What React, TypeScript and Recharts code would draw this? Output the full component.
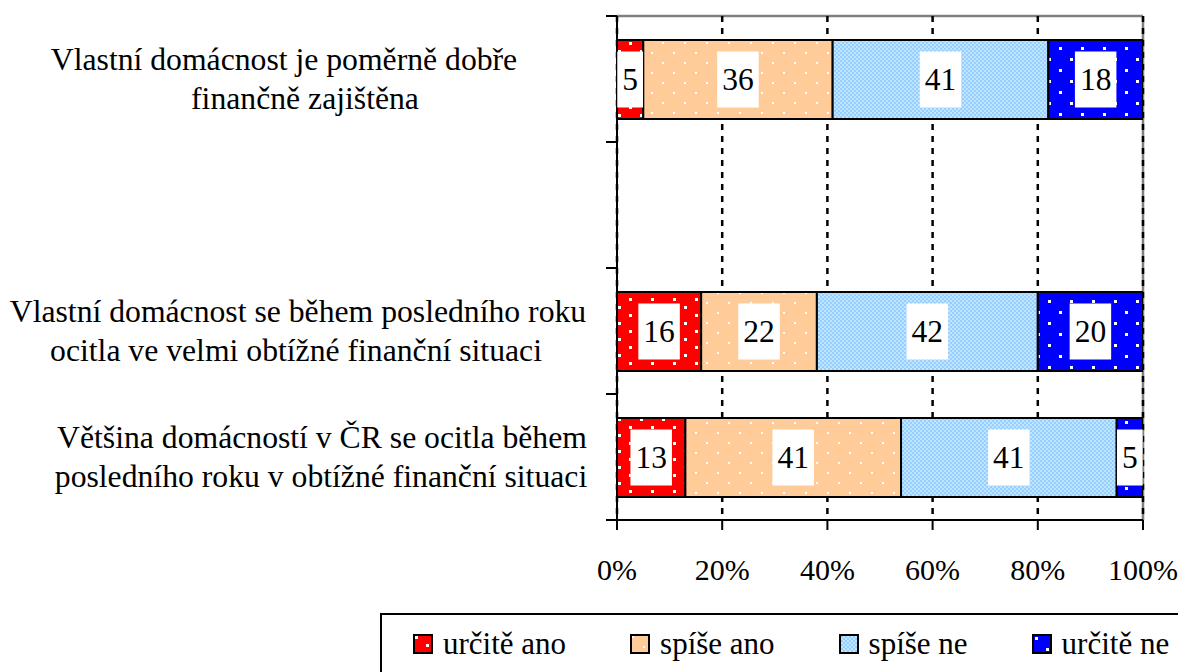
import React from 'react';
import { BarChart, Bar, XAxis, YAxis, CartesianGrid, LabelList, Legend } from 'recharts';

// ---------- data ----------
const categoryLabels: string[][] = [
  ['Vlastní domácnost je poměrně dobře', 'finančně zajištěna'],
  [],
  ['Vlastní domácnost se během posledního roku', 'ocitla ve velmi obtížné finanční situaci'],
  ['Většina domácností v ČR se ocitla během', 'posledního roku v obtížné finanční situaci'],
];
const seriesNames = ['určitě ano', 'spíše ano', 'spíše ne', 'určitě ne'];
const urciteAno: (number | null)[] = [5, null, 16, 13];
const spiseAno: (number | null)[] = [36, null, 22, 41];
const spiseNe: (number | null)[] = [41, null, 42, 41];
const urciteNe: (number | null)[] = [18, null, 20, 5];
const xTicks = [0, 20, 40, 60, 80, 100];

// ---------- styles ----------
const FONT = '"Liberation Serif", "Times New Roman", serif';
const SERIES = [
  { key: 'urciteAno', name: seriesNames[0], values: urciteAno, fill: 'url(#patRed)' },
  { key: 'spiseAno', name: seriesNames[1], values: spiseAno, fill: 'url(#patPeach)' },
  { key: 'spiseNe', name: seriesNames[2], values: spiseNe, fill: 'url(#patLight)' },
  { key: 'urciteNe', name: seriesNames[3], values: urciteNe, fill: 'url(#patBlue)' },
];
// horizontal centers of each label line
const LABEL_CENTERS: number[][] = [[284, 305], [], [298, 296], [322, 321]];
const LINE_GAP = 39;
const CAT_FONT = 31.7;

const data = categoryLabels.map((lines, i) => {
  const row: Record<string, any> = { name: lines.length ? lines.join('\n') : ' ' };
  SERIES.forEach((s) => {
    row[s.key] = s.values[i];
  });
  return row;
});

const Patterns = () => (
  <svg width={0} height={0} style={{ position: 'absolute' }}>
    <defs>
      <pattern id="patRed" width="22" height="16" patternUnits="userSpaceOnUse">
        <rect width="22" height="16" fill="#FF0000" />
        <rect x="2" y="2" width="3" height="3" fill="#FFFFFF" />
        <rect x="13" y="10" width="3" height="3" fill="#FFFFFF" />
      </pattern>
      <pattern id="patPeach" width="22" height="20" patternUnits="userSpaceOnUse">
        <rect width="22" height="20" fill="#FFCC99" />
        <rect x="2" y="2" width="2" height="2" fill="#FFFFFF" />
        <rect x="13" y="12" width="2" height="2" fill="#FFFFFF" />
      </pattern>
      <pattern id="patLight" width="4" height="4" patternUnits="userSpaceOnUse">
        <rect width="4" height="4" fill="#BDE6FF" />
        <rect x="0" y="0" width="2" height="2" fill="#99CCFF" />
        <rect x="2" y="2" width="2" height="2" fill="#99CCFF" />
      </pattern>
      <pattern id="patBlue" width="22" height="22" patternUnits="userSpaceOnUse">
        <rect width="22" height="22" fill="#0000FF" />
        <rect x="3" y="3" width="3" height="3" fill="#FFFFFF" />
        <rect x="14" y="14" width="3" height="3" fill="#FFFFFF" />
      </pattern>
    </defs>
  </svg>
);

const CategoryTick = (props: any) => {
  const { x, y, payload, index, visibleTicksCount } = props;
  const half = payload && typeof payload.offset === 'number' && payload.offset > 0 ? payload.offset : 63;
  const axisX = x + 11;
  const lines = String(payload?.value ?? '')
    .split('\n')
    .filter((s) => s.trim().length > 0);
  const centers = LABEL_CENTERS[index] || [];
  const count = visibleTicksCount ?? data.length;
  const isLast = index === count - 1;
  return (
    <g>
      <line x1={axisX - 11} x2={axisX} y1={y - half} y2={y - half} stroke="#000" strokeWidth={2} />
      {isLast && <line x1={axisX - 11} x2={axisX} y1={y + half} y2={y + half} stroke="#000" strokeWidth={2} />}
      {lines.map((l, i) => (
        <text
          key={i}
          x={centers[i] ?? 300}
          y={y + (i - (lines.length - 1) / 2) * LINE_GAP}
          textAnchor="middle"
          dominantBaseline="central"
          fontSize={CAT_FONT}
          fontFamily={FONT}
          fill="#000"
        >
          {l}
        </text>
      ))}
    </g>
  );
};

const ValueLabel = (props: any) => {
  const vb = props.viewBox || {};
  const x = props.x ?? vb.x;
  const y = props.y ?? vb.y;
  const width = props.width ?? vb.width;
  const height = props.height ?? vb.height;
  const { value } = props;
  if (value == null || x == null) return null;
  const str = String(value);
  const fs = 31.5;
  const w = str.length * fs * 0.5 + 10;
  const h = 56;
  const cx = x + width / 2;
  const cy = y + height / 2;
  return (
    <g>
      <rect x={cx - w / 2} y={cy - h / 2} width={w} height={h} fill="#FFFFFF" />
      <text x={cx} y={cy} textAnchor="middle" dominantBaseline="central" fontSize={fs} fontFamily={FONT} fill="#000">
        {str}
      </text>
    </g>
  );
};

const LegendBox = () => (
  <div
    style={{
      boxSizing: 'border-box',
      width: 798,
      height: 59,
      borderTop: '2px solid #000',
      borderLeft: '2px solid #000',
      display: 'flex',
      alignItems: 'center',
      paddingLeft: 31,
      fontFamily: FONT,
      fontSize: 31,
      color: '#000',
      whiteSpace: 'nowrap',
    }}
  >
    {SERIES.map((s) => (
      <div key={s.key} style={{ display: 'flex', alignItems: 'center', marginRight: 64 }}>
        <svg width={20} height={20} style={{ display: 'block' }}>
          <rect x={1} y={1} width={18} height={18} fill={s.fill} stroke="#000" strokeWidth={2} />
        </svg>
        <span style={{ marginLeft: 10, lineHeight: 1 }}>{s.name}</span>
      </div>
    ))}
  </div>
);

export default function App() {
  return (
    <div
      style={{
        position: 'absolute',
        left: 0,
        top: 0,
        width: 1178,
        height: 672,
        overflow: 'hidden',
        background: '#fff',
        fontFamily: FONT,
      }}
    >
      <Patterns />
      <BarChart
        width={1178}
        height={672}
        data={data}
        layout="vertical"
        margin={{ top: 16, right: 35, bottom: 0, left: 0 }}
        barSize={79}
      >
        <CartesianGrid
          stroke="#808080"
          strokeWidth={2.5}
          horizontalCoordinatesGenerator={({ offset }: any) => [offset.top]}
          verticalCoordinatesGenerator={({ offset }: any) => [offset.left + offset.width]}
        />
        <CartesianGrid stroke="#000" strokeWidth={2.5} strokeDasharray="6 6" horizontal={false} />
        <XAxis
          type="number"
          domain={[0, 100]}
          ticks={xTicks}
          interval={0}
          allowDataOverflow
          tickFormatter={(v: number) => `${v}%`}
          axisLine={{ stroke: '#000', strokeWidth: 2 }}
          tickLine={{ stroke: '#000', strokeWidth: 2 }}
          tickSize={10}
          tickMargin={29}
          height={152}
          tick={{ fill: '#000', fontSize: 30, fontFamily: FONT }}
        />
        <YAxis
          type="category"
          dataKey="name"
          width={617}
          interval={0}
          tickLine={false}
          tickSize={11}
          tickMargin={0}
          axisLine={{ stroke: '#000', strokeWidth: 2 }}
          tick={<CategoryTick />}
        />
        <Legend
          layout="horizontal"
          verticalAlign="middle"
          align="center"
          wrapperStyle={{ left: 380, top: 613, width: 798, height: 59 }}
          content={() => <LegendBox />}
        />
        {SERIES.map((s) => (
          <Bar
            key={s.key}
            dataKey={s.key}
            name={s.name}
            stackId="a"
            fill={s.fill}
            stroke="#000"
            strokeWidth={2}
            isAnimationActive={false}
          >
            <LabelList dataKey={s.key} content={<ValueLabel />} />
          </Bar>
        ))}
      </BarChart>
    </div>
  );
}
